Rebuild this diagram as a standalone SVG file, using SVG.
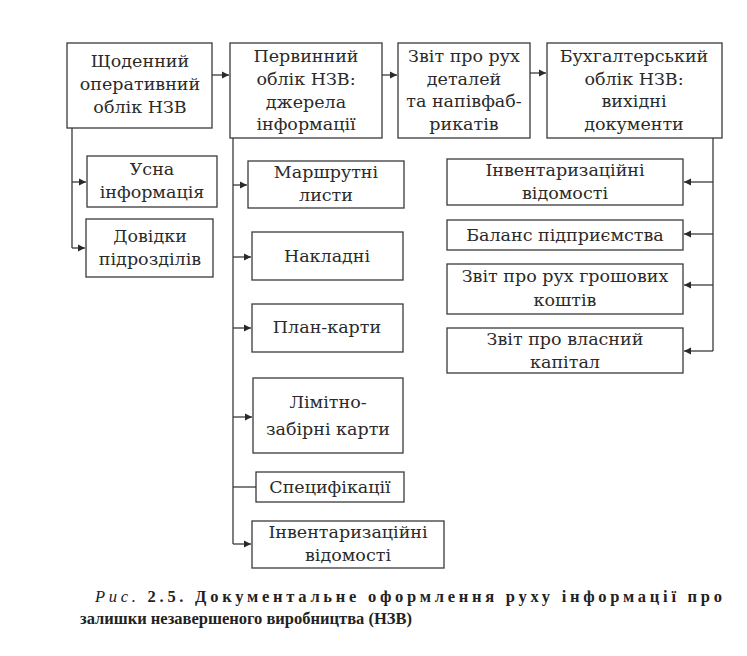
<svg xmlns="http://www.w3.org/2000/svg" width="747" height="656" viewBox="0 0 747 656">
<style>
.b{fill:#fff;stroke:#3a3a3a;stroke-width:1.3}
.t{font-family:"DejaVu Serif","Liberation Serif",serif;font-size:17.5px;fill:#2a2a2a;text-anchor:middle}
.c{fill:none;stroke:#3a3a3a;stroke-width:1.3}
.cap{font-family:"Liberation Serif","DejaVu Serif",serif;font-size:16.5px;fill:#222;font-weight:bold}
</style>
<defs>
<marker id="a" markerWidth="8" markerHeight="8" refX="7" refY="4" orient="auto" markerUnits="userSpaceOnUse">
<path d="M0,0.5 L7,4 L0,7.5 z" fill="#2a2a2a"/>
</marker>
</defs>
<rect width="747" height="656" fill="#fff"/>
<g id="connectors">
<path class="c" d="M212,75 H229" marker-end="url(#a)"/>
<path class="c" d="M382,75 H397" marker-end="url(#a)"/>
<path class="c" d="M530,73 H546" marker-end="url(#a)"/>
<path class="c" d="M72,128 V248"/>
<path class="c" d="M72,182 H86" marker-end="url(#a)"/>
<path class="c" d="M72,248 H85" marker-end="url(#a)"/>
<path class="c" d="M233,138 V544"/>
<path class="c" d="M233,185 H247" marker-end="url(#a)"/>
<path class="c" d="M233,257 H251" marker-end="url(#a)"/>
<path class="c" d="M233,328 H251" marker-end="url(#a)"/>
<path class="c" d="M233,417 H252" marker-end="url(#a)"/>
<path class="c" d="M233,487 H256"/>
<path class="c" d="M233,544 H251" marker-end="url(#a)"/>
<path class="c" d="M713,138 V351"/>
<path class="c" d="M713,182 H684" marker-end="url(#a)"/>
<path class="c" d="M713,234 H684" marker-end="url(#a)"/>
<path class="c" d="M713,285 H684" marker-end="url(#a)"/>
<path class="c" d="M713,351 H684" marker-end="url(#a)"/>
</g>
<g id="n1"><rect class="b" x="67" y="43" width="145" height="85"/>
<text class="t" x="140" y="67">Щоденний</text><text class="t" x="140" y="90">оперативний</text><text class="t" x="140" y="113">облік НЗВ</text></g>
<g id="n2"><rect class="b" x="230" y="43" width="152" height="95"/>
<text class="t" x="306" y="62">Первинний</text><text class="t" x="306" y="85">облік НЗВ:</text><text class="t" x="306" y="108">джерела</text><text class="t" x="306" y="130">інформації</text></g>
<g id="n3"><rect class="b" x="398" y="43" width="132" height="95"/>
<text class="t" x="464" y="62">Звіт про рух</text><text class="t" x="464" y="85">деталей</text><text class="t" x="464" y="107">та напівфаб-</text><text class="t" x="464" y="130">рикатів</text></g>
<g id="n4"><rect class="b" x="547" y="43" width="175" height="95"/>
<text class="t" x="634" y="62">Бухгалтерський</text><text class="t" x="634" y="85">облік НЗВ:</text><text class="t" x="634" y="107">вихідні</text><text class="t" x="634" y="130">документи</text></g>
<g id="n5"><rect class="b" x="87" y="156" width="130" height="51"/>
<text class="t" x="152" y="175">Усна</text><text class="t" x="152" y="198">інформація</text></g>
<g id="n6"><rect class="b" x="86" y="219" width="127" height="58"/>
<text class="t" x="150" y="242">Довідки</text><text class="t" x="150" y="265">підрозділів</text></g>
<g id="n7"><rect class="b" x="248" y="161" width="156" height="47"/>
<text class="t" x="326" y="178">Маршрутні</text><text class="t" x="326" y="201">листи</text></g>
<g id="n8"><rect class="b" x="252" y="232" width="151" height="48"/>
<text class="t" x="327" y="262">Накладні</text></g>
<g id="n9"><rect class="b" x="252" y="304" width="151" height="48"/>
<text class="t" x="327" y="333">План-карти</text></g>
<g id="n10"><rect class="b" x="253" y="378" width="150" height="75"/>
<text class="t" x="328" y="408">Лімітно-</text><text class="t" x="328" y="435">забірні карти</text></g>
<g id="n11"><rect class="b" x="256" y="472" width="148" height="30"/>
<text class="t" x="330" y="493">Специфікації</text></g>
<g id="n12"><rect class="b" x="252" y="521" width="192" height="47"/>
<text class="t" x="348" y="538">Інвентаризаційні</text><text class="t" x="348" y="561">відомості</text></g>
<g id="n13"><rect class="b" x="447" y="159" width="236" height="46"/>
<text class="t" x="565" y="176">Інвентаризаційні</text><text class="t" x="565" y="199">відомості</text></g>
<g id="n14"><rect class="b" x="447" y="220" width="236" height="30"/>
<text class="t" x="565" y="241">Баланс підприємства</text></g>
<g id="n15"><rect class="b" x="447" y="264" width="236" height="50"/>
<text class="t" x="565" y="282">Звіт про рух грошових</text><text class="t" x="565" y="306">коштів</text></g>
<g id="n16"><rect class="b" x="447" y="328" width="236" height="45"/>
<text class="t" x="565" y="345">Звіт про власний</text><text class="t" x="565" y="368">капітал</text></g>
<g id="caption">
<text class="cap" x="95" y="602" textLength="627" lengthAdjust="spacing"><tspan font-style="italic" font-weight="normal">Рис.</tspan> 2.5. Документальне оформлення руху інформації про</text>
<text class="cap" x="80" y="624">залишки незавершеного виробництва (НЗВ)</text>
</g>
</svg>
